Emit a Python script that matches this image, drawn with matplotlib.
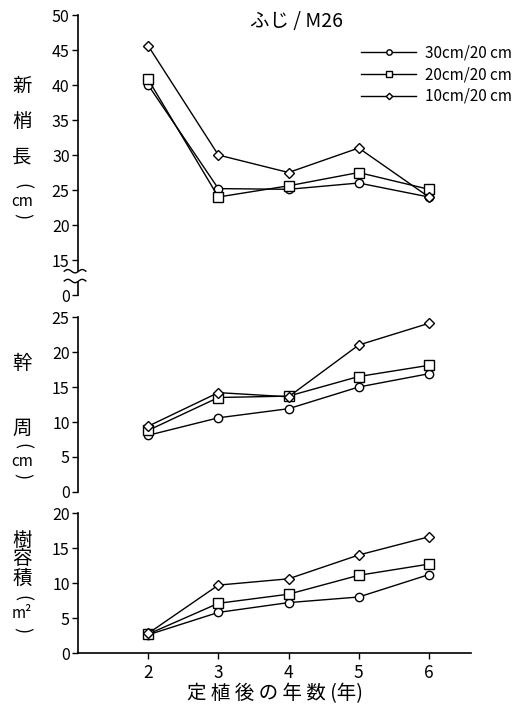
import matplotlib.pyplot as plt
import numpy as np

plt.rcParams['font.family'] = ['Noto Sans CJK JP', 'DejaVu Sans']

years = [2, 3, 4, 5, 6]
labels = ['30cm/20 cm', '20cm/20 cm', '10cm/20 cm']
markers = ['o', 's', 'D']
msizes = [6, 6.5, 5]

# 新梢長 (cm)
shoot = [
    [40.0, 25.2, 25.1, 26.0, 24.0],
    [40.8, 24.0, 25.6, 27.5, 25.1],
    [45.6, 30.0, 27.5, 31.0, 24.0],
]
# 幹周 (cm)
trunk = [
    [8.1, 10.6, 11.9, 15.0, 16.9],
    [8.8, 13.5, 13.7, 16.5, 18.1],
    [9.4, 14.2, 13.6, 21.0, 24.1],
]
# 樹容積 (m3)
volume = [
    [2.6, 5.8, 7.2, 8.0, 11.2],
    [2.7, 7.1, 8.4, 11.1, 12.7],
    [2.8, 9.7, 10.6, 14.0, 16.6],
]

top_ticks = [10, 15, 20, 25, 30, 35, 40, 45, 50]
top_ticklabels = ['0', '15', '20', '25', '30', '35', '40', '45', '50']

fig = plt.figure(figsize=(5.21, 7.15), dpi=100)
L, W = 0.1497, 0.7543
ax1 = fig.add_axes([L, 0.5874, W, 0.979 - 0.5874])
ax2 = fig.add_axes([L, 0.3119, W, 0.5566 - 0.3119])
ax3 = fig.add_axes([L, 0.0867, W, 0.2825 - 0.0867])

for ax, data in [(ax1, shoot), (ax2, trunk), (ax3, volume)]:
    for i in range(3):
        ax.plot(years, data[i], color='black', lw=1.0, marker=markers[i],
                ms=msizes[i], mfc='white', mec='black', mew=1.0,
                label=labels[i], zorder=3)
    ax.set_xlim(1, 6.6)
    for s in ['top', 'right']:
        ax.spines[s].set_visible(False)
    ax.spines['left'].set_linewidth(1.2)
    ax.tick_params(axis='y', direction='out', length=4, width=1.0,
                   labelsize=11.5, pad=2)
    ax.patch.set_alpha(0)

for ax in (ax1, ax2):
    ax.spines['bottom'].set_visible(False)
    ax.set_xticks([])

ax1.set_ylim(10, 50)
ax1.set_yticks(top_ticks)
ax1.set_yticklabels(top_ticklabels)
ax2.set_ylim(0, 25)
ax2.set_yticks([0, 5, 10, 15, 20, 25])
ax3.set_ylim(0, 20)
ax3.set_yticks([0, 5, 10, 15, 20])
ax3.set_xticks(years)
ax3.spines['bottom'].set_linewidth(1.2)
ax3.tick_params(axis='x', direction='out', length=4, width=1.0,
                labelsize=12.5, pad=4)
ax3.set_xlabel('定 植 後 の 年 数 (年)', fontsize=14, labelpad=1)

# axis break on the top panel
t = np.linspace(-0.035, 0.02, 40)
for yb in (0.05, 0.085):
    ax1.plot(t, yb + 0.006 * np.sin((t + 0.035) / 0.055 * 2 * np.pi * 1.5),
             transform=ax1.transAxes, color='black', lw=1.0, clip_on=False,
             zorder=5)
ax1.add_patch(plt.Rectangle((-0.01, 0.052), 0.02, 0.03, transform=ax1.transAxes,
                            color='white', clip_on=False, zorder=4))

fig.text(296 / 521, 1 - 22 / 715, 'ふじ / M26', ha='center', va='center',
         fontsize=14)

leg = fig.legend(*ax1.get_legend_handles_labels(), loc='upper right',
                 bbox_to_anchor=(1.01, 1 - 31 / 715), frameon=False,
                 fontsize=11, handlelength=3.6, handletextpad=0.6,
                 labelspacing=0.3, markerscale=0.65)

# vertical y labels
def vlabel(items, ys):
    for (c, rot, fs), y in zip(items, ys):
        fig.text(0.042, 1 - y / 715, c, ha='center', va='center',
                 fontsize=fs, rotation=rot)

op = ('(', -90, 13)
cp = (')', -90, 13)
vlabel([('新', 0, 14), ('梢', 0, 14), ('長', 0, 14), op, ('cm', 0, 11), cp],
       [86, 121, 157, 186, 201, 216])
vlabel([('幹', 0, 14), ('周', 0, 14), op, ('cm', 0, 11), cp],
       [364, 428, 446, 461, 476])
vlabel([('樹', 0, 14), ('容', 0, 14), ('積', 0, 14), op, ('m²', 0, 11), cp],
       [540, 559, 578, 598, 613, 630])

fig.savefig('out.png', dpi=100)
